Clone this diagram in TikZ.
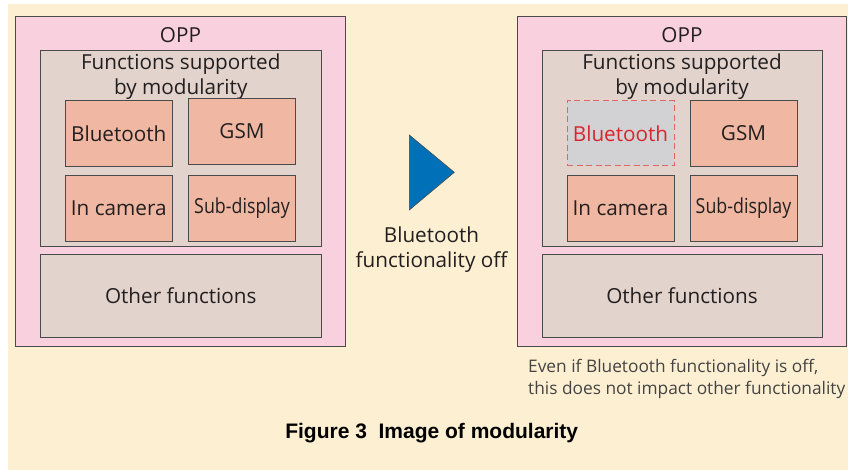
\documentclass[tikz,border=0pt]{standalone}
\usepackage{fontspec}
\setmainfont{Open Sans}
\newfontfamily\capfont{Liberation Sans}
\definecolor{cream}{HTML}{FDEFD2}
\definecolor{pinkbg}{HTML}{F9D1DE}
\definecolor{beige}{HTML}{E2D4CC}
\definecolor{salmon}{HTML}{F0B8A2}
\definecolor{offgray}{HTML}{D2D2D4}
\definecolor{dashred}{HTML}{E06666}
\definecolor{redtxt}{HTML}{D7262E}
\definecolor{edge}{HTML}{4A4A4A}
\definecolor{txt}{HTML}{231F20}
\definecolor{notetxt}{HTML}{444444}
\definecolor{arrowblue}{HTML}{0070B8}
\begin{document}
\begin{tikzpicture}[x=1pt,y=-1pt,
  mainfont/.style={font=\fontsize{20.7}{25}\selectfont},
  frame/.style={draw=edge, line width=0.8pt, inner sep=0pt},
  outerbox/.style={frame, fill=pinkbg},
  innerbox/.style={frame, fill=beige},
  module/.style={frame, fill=salmon, text=txt, mainfont, minimum width=107pt, minimum height=66pt},
  offmodule/.style={draw=dashred, dash pattern=on 6pt off 3.5pt, line width=1pt, inner sep=0pt, fill=offgray, text=redtxt, mainfont, minimum width=107pt, minimum height=65pt},
  label/.style={text=txt, mainfont, align=center, inner sep=0pt}
]
\useasboundingbox (0,0) rectangle (848,470);
\fill[cream] (8,4) rectangle (848,470);

% ---- left side ----
\node[outerbox, minimum width=330pt, minimum height=330pt] (oppL) at (180.5,181) {};
\node[label] (oppLt) at (180.5,35) {OPP};
\node[innerbox, minimum width=280.5pt, minimum height=196pt] (modL) at (180.75,148) {};
\node[label] (modLt) at (180.75,77) {Functions supported\\by modularity};
\node[module] (btL) at (118.75,133.5) {Bluetooth};
\node[module] (gsmL) at (242,131.5) {GSM};
\node[module] (camL) at (118.75,208) {In camera};
\node[module] (subL) at (242,208) {\scalebox{0.86}[1]{Sub-display}};
\node[innerbox, minimum width=280.5pt, minimum height=83pt, label, mainfont] (othL) at (180.75,296) {Other functions};

% ---- arrow ----
\coordinate (t1) at (409.3,135);
\coordinate (t2) at (454.3,172.3);
\coordinate (t3) at (409.3,210);
\filldraw[fill=arrowblue, draw=edge, line width=0.6pt, line join=miter] (t1) -- (t2) -- (t3) -- cycle;
\node[label] (offt) at (431.5,249.5) {Bluetooth\\functionality off};

% ---- right side ----
\node[outerbox, minimum width=329.5pt, minimum height=330pt] (oppR) at (681.75,181) {};
\node[label] (oppRt) at (682,35) {OPP};
\node[innerbox, minimum width=280pt, minimum height=196pt] (modR) at (682,148) {};
\node[label] (modRt) at (682,77) {Functions supported\\by modularity};
\node[offmodule] (btR) at (620.5,133.5) {Bluetooth};
\node[module] (gsmR) at (743.5,133.5) {GSM};
\node[module] (camR) at (620.5,208) {In camera};
\node[module] (subR) at (743.5,208) {\scalebox{0.86}[1]{Sub-display}};
\node[innerbox, minimum width=280pt, minimum height=83pt, label, mainfont] (othR) at (682,296) {Other functions};

\node[anchor=west, align=left, inner sep=0pt, text=notetxt, font=\fontsize{17.3}{22.5}\selectfont] (note) at (528,379) {Even if Bluetooth functionality is off,\\this does not impact other functionality};

\node[inner sep=0pt, text=black, font=\capfont\bfseries\fontsize{21}{25}\selectfont] (cap) at (431.7,433) {Figure 3\ \ Image of modularity};
\end{tikzpicture}
\end{document}
